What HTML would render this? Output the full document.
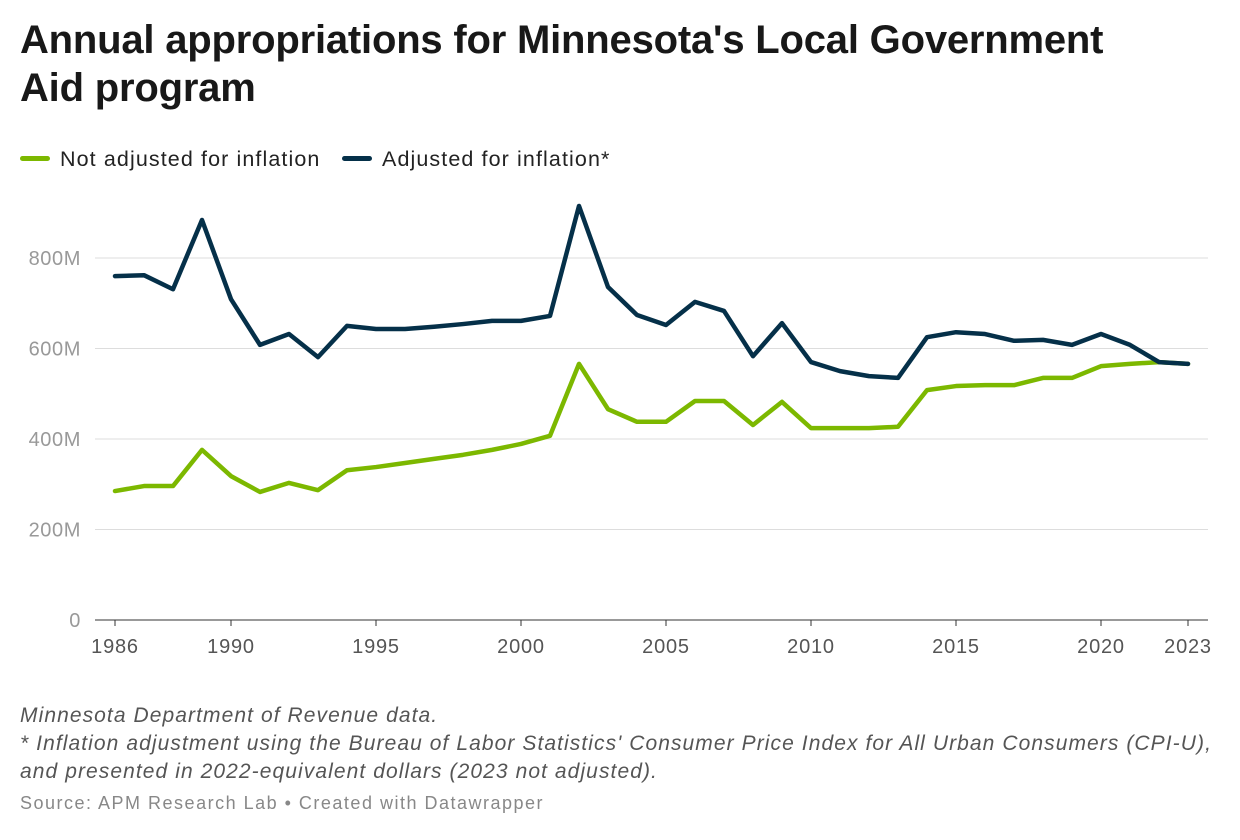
<!DOCTYPE html>
<html><head><meta charset="utf-8"><style>
body{margin:0;background:#fff;width:1240px;height:840px;overflow:hidden;font-family:"Liberation Sans",sans-serif}
h1{position:absolute;left:20px;top:16px;margin:0;font-size:40px;line-height:48px;font-weight:bold;color:#181818;width:1140px;letter-spacing:-0.2px}
.leg{position:absolute;top:147px;font-size:21.5px;color:#222;letter-spacing:1.1px}
.sw{display:inline-block;width:30px;height:5px;border-radius:3px;vertical-align:middle;margin-right:10px;position:relative;top:-2px}
.notes{position:absolute;left:20px;top:702px;font-size:21px;font-style:italic;color:#555;line-height:28px;letter-spacing:1.08px;white-space:nowrap}
.src{position:absolute;left:20px;top:793px;font-size:18px;color:#888;letter-spacing:1.5px}
svg{position:absolute;left:0;top:0}
</style></head><body>
<h1>Annual appropriations for Minnesota's Local Government Aid program</h1>
<div class="leg" style="left:20px"><span class="sw" style="background:#7cb800"></span>Not adjusted for inflation</div>
<div class="leg" style="left:342px"><span class="sw" style="background:#053049"></span>Adjusted for inflation*</div>
<svg id="chart" width="1240" height="840"></svg>
<div class="notes">Minnesota Department of Revenue data.<br>* Inflation adjustment using the Bureau of Labor Statistics' Consumer Price Index for All Urban Consumers (CPI-U),<br>and presented in 2022-equivalent dollars (2023 not adjusted).</div>
<div class="src">Source: APM Research Lab • Created with Datawrapper</div>
<script>
const years=[];for(let y=1986;y<=2023;y++)years.push(y);
const notAdjusted=[285,296,296,376,318,283,303,287,331,338,347,356,365,376,389,407,566,466,438,438,484,484,431,482,424,424,424,427,508,517,519,519,535,535,561,566,570,566];
const adjusted=[760,762,731,884,709,608,632,581,650,643,643,648,654,661,661,672,915,736,674,652,703,683,583,656,570,550,539,535,625,636,632,617,619,608,632,608,570,566];
const yTicks=[0,200,400,600,800];
const xTicks=[1986,1990,1995,2000,2005,2010,2015,2020,2023];
const NS="http://www.w3.org/2000/svg",svg=document.getElementById('chart');
const x=v=>115+(v-1986)*(1188-115)/37;
const y=v=>620-v*(620-258)/800;
function mk(t,a){const e=document.createElementNS(NS,t);for(const k in a)e.setAttribute(k,a[k]);svg.appendChild(e);return e;}
yTicks.forEach(t=>{
  const l=mk('line',{x1:95,x2:1208,y1:y(t),y2:y(t),stroke:t===0?'#333':'#ddd','stroke-width':1});
  
  
  const tx=mk('text',{x:81,y:y(t)+7,'text-anchor':'end','font-size':20,'letter-spacing':0.6,fill:'#999','font-family':'Liberation Sans, sans-serif'});
  tx.textContent=t===0?'0':t+'M';
  
  
});
xTicks.forEach(t=>{
  const l=mk('line',{x1:x(t),x2:x(t),y1:620,y2:626,stroke:'#333'});
  
  
  const tx=mk('text',{x:x(t),y:653,'text-anchor':'middle','font-size':20,'letter-spacing':0.8,fill:'#555','font-family':'Liberation Sans, sans-serif'});
  tx.textContent=t;
  
  
});
function line(vals,color,name){
  const p=mk('polyline',{points:vals.map((v,i)=>x(years[i])+','+y(v)).join(' '),fill:'none',stroke:color,'stroke-width':4.5,'stroke-linejoin':'round','stroke-linecap':'round'});
  
  
}
line(notAdjusted,'#7cb800','line-not-adjusted');
line(adjusted,'#053049','line-adjusted');
</script>
</body></html>
